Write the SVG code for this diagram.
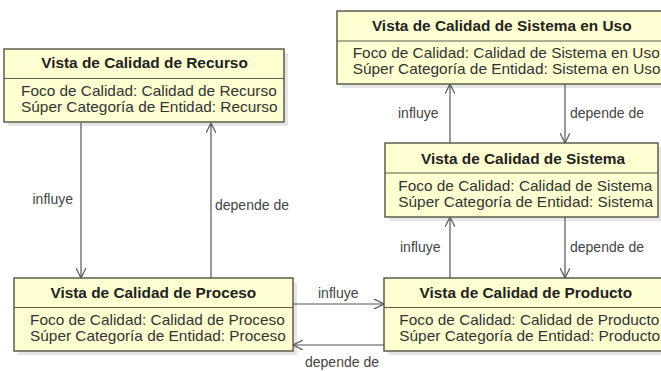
<svg xmlns="http://www.w3.org/2000/svg" width="661" height="371" viewBox="0 0 661 371">
  <style>
    .box { fill: #ffffd2; stroke: #5d5d4c; stroke-width: 1.5; }
    .shadow { fill: #e6e6e6; stroke: none; }
    .div { stroke: #5d5d4c; stroke-width: 1.2; }
    .title { font-family: "Liberation Sans", Arial, sans-serif; font-size: 14px; font-weight: bold; fill: #222; text-anchor: middle; }
    .body { font-family: "Liberation Sans", Arial, sans-serif; font-size: 14px; fill: #333; }
    .lbl { font-family: "Liberation Sans", Arial, sans-serif; font-size: 14px; fill: #444; }
    .conn { stroke: #555; stroke-width: 1.2; fill: none; marker-end: url(#arr); }
  </style>
  <defs>
    <marker id="arr" viewBox="0 0 10 10" refX="10" refY="5" markerWidth="10" markerHeight="10" markerUnits="userSpaceOnUse" orient="auto">
      <path d="M0,0 L10,5 L0,10" fill="none" stroke="#555" stroke-width="1.2"/>
    </marker>
  </defs>
  <rect width="661" height="371" fill="#ffffff"/>

  <g id="recurso">
    <rect class="shadow" x="8" y="53" width="280" height="73"/>
    <rect class="box" x="4" y="49" width="280" height="73"/>
    <line class="div" x1="4" y1="78.5" x2="284" y2="78.5"/>
    <text class="title" transform="translate(144.5,68) scale(1.1,1)">Vista de Calidad de Recurso</text>
    <text class="body" transform="translate(21,95.5) scale(1.1,1)">Foco de Calidad: Calidad de Recurso</text>
    <text class="body" transform="translate(21,111.5) scale(1.1,1)">Súper Categoría de Entidad: Recurso</text>
  </g>

  <g id="uso">
    <rect class="shadow" x="341" y="15" width="330" height="73"/>
    <rect class="box" x="337" y="11" width="330" height="73"/>
    <line class="div" x1="337" y1="41" x2="667" y2="41"/>
    <text class="title" transform="translate(501.7,31) scale(1.1,1)">Vista de Calidad de Sistema en Uso</text>
    <text class="body" transform="translate(352.7,57.5) scale(1.1,1)">Foco de Calidad: Calidad de Sistema en Uso</text>
    <text class="body" transform="translate(352.7,73.5) scale(1.1,1)">Súper Categoría de Entidad: Sistema en Uso</text>
  </g>

  <g id="sistema">
    <rect class="shadow" x="389" y="147" width="273" height="74"/>
    <rect class="box" x="385" y="143" width="273" height="74"/>
    <line class="div" x1="385" y1="173" x2="658" y2="173"/>
    <text class="title" transform="translate(523,164) scale(1.1,1)">Vista de Calidad de Sistema</text>
    <text class="body" transform="translate(398.3,190.5) scale(1.1,1)">Foco de Calidad: Calidad de Sistema</text>
    <text class="body" transform="translate(398.3,206.5) scale(1.1,1)">Súper Categoría de Entidad: Sistema</text>
  </g>

  <g id="proceso">
    <rect class="shadow" x="18" y="282" width="279" height="73"/>
    <rect class="box" x="14" y="278" width="279" height="73"/>
    <line class="div" x1="14" y1="307.5" x2="293" y2="307.5"/>
    <text class="title" transform="translate(153.3,298) scale(1.1,1)">Vista de Calidad de Proceso</text>
    <text class="body" transform="translate(30,325) scale(1.1,1)">Foco de Calidad: Calidad de Proceso</text>
    <text class="body" transform="translate(30,341) scale(1.1,1)">Súper Categoría de Entidad: Proceso</text>
  </g>

  <g id="producto">
    <rect class="shadow" x="388" y="282" width="283" height="73"/>
    <rect class="box" x="384" y="278" width="283" height="73"/>
    <line class="div" x1="384" y1="307.5" x2="667" y2="307.5"/>
    <text class="title" transform="translate(525.8,298) scale(1.1,1)">Vista de Calidad de Producto</text>
    <text class="body" transform="translate(399.3,325) scale(1.1,1)">Foco de Calidad: Calidad de Producto</text>
    <text class="body" transform="translate(399.3,341) scale(1.1,1)">Súper Categoría de Entidad: Producto</text>
  </g>

  <g id="connectors">
    <line class="conn" x1="81" y1="123" x2="81" y2="278"/>
    <line class="conn" x1="211" y1="278" x2="211" y2="123"/>
    <line class="conn" x1="450" y1="143" x2="450" y2="84"/>
    <line class="conn" x1="565" y1="84" x2="565" y2="143"/>
    <line class="conn" x1="450" y1="278" x2="450" y2="217"/>
    <line class="conn" x1="565" y1="217" x2="565" y2="278"/>
    <line class="conn" x1="293" y1="304" x2="384" y2="304"/>
    <line class="conn" x1="384" y1="345" x2="293" y2="345"/>
    <text class="lbl" x="32.5" y="204">influye</text>
    <text class="lbl" x="215" y="210">depende de</text>
    <text class="lbl" x="398" y="118">influye</text>
    <text class="lbl" x="570" y="118">depende de</text>
    <text class="lbl" x="400" y="252">influye</text>
    <text class="lbl" x="570" y="252">depende de</text>
    <text class="lbl" x="318" y="298">influye</text>
    <text class="lbl" x="305" y="367">depende de</text>
  </g>
</svg>
